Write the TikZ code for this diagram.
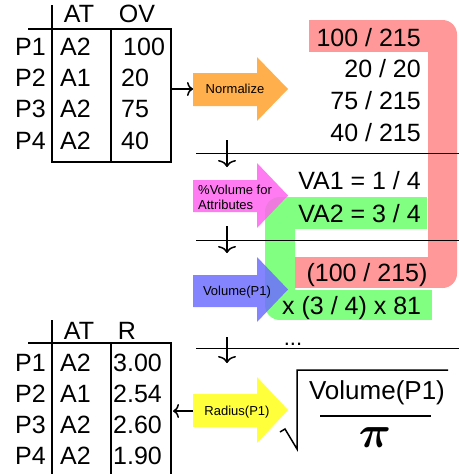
\documentclass[tikz,border=0pt]{standalone}
\usepackage{amsmath}
\usepackage{fontspec}
\setmainfont{Liberation Sans}
\usetikzlibrary{arrows.meta}

\definecolor{normorange}{RGB}{255,176,76}
\definecolor{pctpink}{RGB}{255,100,238}
\definecolor{volblue}{RGB}{110,110,255}
\definecolor{radyellow}{RGB}{255,255,60}
\definecolor{bandred}{RGB}{255,153,153}
\definecolor{bandgreen}{RGB}{128,255,128}

\tikzset{
  big/.style={inner sep=0pt, font=\fontsize{25}{30}\selectfont, text height=18pt, text depth=0pt},
  small/.style={inner sep=0pt, font=\fontsize{13}{15}\selectfont},
  tab/.style={line width=2pt},
  sep/.style={line width=1pt},
  conn/.style={-{To[length=6pt,width=14pt]}, line width=1.5pt},
  downconn/.style={-{To[length=7pt,width=18pt]}, line width=1.5pt},
}

\begin{document}
\begin{tikzpicture}[x=1pt, y=-1pt]
      \useasboundingbox (0,0) rectangle (459,474);

      % table with the original values
      \draw[tab] (52,5) -- (52,162) -- (171,162) -- (171,29) -- (28,29);
      \draw[tab] (111,29) -- (111,162);
      \node[big] (at1) at (79,13) {AT};
      \node[big] (ov1) at (137,13) {OV};
      \node[big, anchor=west] (p1a) at (15,46) {P1}; \node[big, anchor=west] (a1a) at (60,46) {A2}; \node[big, anchor=west] (v1a) at (123,46) {100};
      \node[big, anchor=west] (p2a) at (15,77) {P2}; \node[big, anchor=west] (a2a) at (60,77) {A1}; \node[big, anchor=west] (v2a) at (121,77) {20};
      \node[big, anchor=west] (p3a) at (15,108) {P3}; \node[big, anchor=west] (a3a) at (60,108) {A2}; \node[big, anchor=west] (v3a) at (121,108) {75};
      \node[big, anchor=west] (p4a) at (15,140) {P4}; \node[big, anchor=west] (a4a) at (60,140) {A2}; \node[big, anchor=west] (v4a) at (121,140) {40};

      % table with the radii
      \draw[tab] (52,320) -- (52,474);
      \draw[tab] (28,343) -- (171,343) -- (171,474);
      \draw[tab] (111,343) -- (111,474);
      \node[big] (at2) at (79,330) {AT};
      \node[big] (r2) at (127,330) {R};
      \node[big, anchor=west] (p1b) at (15,362) {P1}; \node[big, anchor=west] (a1b) at (60,362) {A2}; \node[big, anchor=west] (v1b) at (113,362) {3.00};
      \node[big, anchor=west] (p2b) at (15,393) {P2}; \node[big, anchor=west] (a2b) at (60,393) {A1}; \node[big, anchor=west] (v2b) at (113,393) {2.54};
      \node[big, anchor=west] (p3b) at (15,424) {P3}; \node[big, anchor=west] (a3b) at (60,424) {A2}; \node[big, anchor=west] (v3b) at (113,424) {2.60};
      \node[big, anchor=west] (p4b) at (15,455) {P4}; \node[big, anchor=west] (a4b) at (60,455) {A2}; \node[big, anchor=west] (v4b) at (113,455) {1.90};

      % green band
      \fill[bandgreen] (280,197) rectangle (427,229);
      \fill[bandgreen, rounded corners=15pt] (265,197) rectangle (295,320);
      \fill[bandgreen] (280,290) rectangle (432,320);

      % red band
      \fill[bandred] (309,20) rectangle (443,52);
      \fill[bandred, rounded corners=14.5pt] (428,20) rectangle (457,288);
      \fill[bandred] (295,257) rectangle (443,288);

      % step arrows
      \fill[normorange] (193,73) -- (257,73) -- (257,57) -- (288,89) -- (257,121) -- (257,106) -- (193,106) -- cycle;
      \fill[pctpink, opacity=0.85] (193,180) -- (257,180) -- (257,163) -- (288,195.5) -- (257,228) -- (257,212) -- (193,212) -- cycle;
      \fill[volblue, opacity=0.85] (193,275) -- (257,275) -- (257,257) -- (288,289.5) -- (257,322) -- (257,307) -- (193,307) -- cycle;
      \fill[radyellow] (193,394) -- (257,394) -- (257,377) -- (288,410) -- (257,443) -- (257,427) -- (193,427) -- cycle;
      \node[small] (norm) at (235,89) {Normalize};
      \node[small, align=left, anchor=west] (pct) at (198,197.5) {\%Volume for\\Attributes};
      \node[small] (vol) at (237,292) {Volume(P1)};
      \node[small] (rad) at (237,412) {Radius(P1)};

      % separators
      \draw[sep] (196,153) -- (459,153);
      \draw[sep] (196,240) -- (459,240);
      \draw[sep] (196,348) -- (459,348);

      \coordinate (tabout) at (172,89);
      \coordinate (normin) at (193,89);
      \draw[conn] (tabout) -- (normin);
      \coordinate (radout) at (193,411);
      \coordinate (tabin) at (173,411);
      \draw[conn] (radout) -- (tabin);
      \coordinate (down1a) at (227,140); \coordinate (down1b) at (227,167);
      \coordinate (down2a) at (227,226); \coordinate (down2b) at (227,253);
      \coordinate (down3a) at (227,337); \coordinate (down3b) at (227,363);
      \draw[downconn] (down1a) -- (down1b);
      \draw[downconn] (down2a) -- (down2b);
      \draw[downconn] (down3a) -- (down3b);

      % values
      \node[big, anchor=east] (n1) at (421,37) {100 / 215};
      \node[big, anchor=east] (n2) at (421,68) {20 / 20};
      \node[big, anchor=east] (n3) at (421,100) {75 / 215};
      \node[big, anchor=east] (n4) at (421,132) {40 / 215};
      \node[big, anchor=east] (va1) at (421,180) {VA1 = 1 / 4};
      \node[big, anchor=east] (va2) at (421,213) {VA2 = 3 / 4};
      \node[big] (part1) at (367,272) {(100 / 215)};
      \node[big, anchor=west] (part2) at (282,305) {x (3 / 4) x 81};
      \node[inner sep=0pt, font=\fontsize{22}{22}\selectfont, anchor=base] (dots) at (293,345) {...};

      % radius formula
      \draw[line width=1.5pt] (280,432) -- (285,429) -- (297,449) -- (297,370) -- (448,370);
      \node[inner sep=0pt, font=\fontsize{26}{30}\selectfont] (volp) at (377,393) {Volume(P1)};
      \draw[line width=1.5pt] (320,416) -- (431,416);
      \node[inner sep=0pt, font=\fontsize{25}{30}\selectfont] (pi) at (375,438) {\scalebox{1.8}{$\boldsymbol{\pi}$}};
    \end{tikzpicture}
\end{document}
